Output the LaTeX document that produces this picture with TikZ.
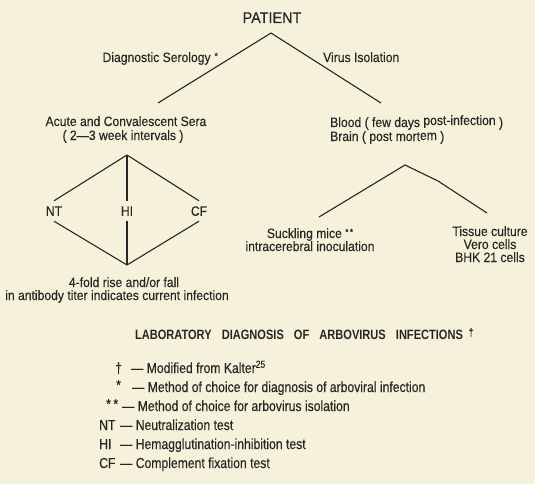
\documentclass[tikz,border=0pt]{standalone}
\usepackage{fontspec}
\setmainfont{Liberation Sans}[FakeStretch=0.9, FakeBold=0.25]
\newfontfamily\legfont{Liberation Sans}[FakeStretch=0.84, FakeBold=0.25]
\newfontfamily\patfont{Liberation Sans}[FakeStretch=0.93, FakeBold=0.25]
\newfontfamily\titfont{Liberation Sans Bold}[FakeStretch=0.82]
\definecolor{paper}{RGB}{246,241,218}
\definecolor{ink}{RGB}{40,38,36}
\begin{document}
\begin{tikzpicture}[x=1pt,y=-1pt,
  every node/.style={inner sep=0pt, text=ink, font=\fontsize{13.5}{15}\selectfont},
  link/.style={draw=ink, line width=1.1pt},
  txt/.style={anchor=base},
  txtw/.style={anchor=base west},
  dlab/.style={minimum height=20pt, text height=9.5pt, text depth=0pt},
  leg/.style={anchor=base west, font=\legfont\fontsize{14.5}{16}\selectfont}]
\fill[paper] (0,0) rectangle (535,484);
\useasboundingbox (0,0) rectangle (535,484);

% top tree
\node[txt, font=\patfont\fontsize{15.5}{18}\selectfont] (patient) at (272,23) {PATIENT};
\coordinate (apex) at (271,33);
\coordinate (lend) at (158,103);
\coordinate (rend) at (381,103);
\draw[link] (lend) -- (apex) -- (rend);
\node[anchor=base east] (diag) at (218,62) {Diagnostic Serology\hspace{4pt}\raisebox{3pt}{\fontsize{9}{9}\selectfont *}};
\node[txtw] (virus) at (323,62) {Virus Isolation};

\node[txt] (acute) at (126,126) {Acute and Convalescent Sera};
\node[txt] (interv) at (123,140) {( 2—3 week intervals )};
\node[txtw] (blood) at (330,127) {Blood ( few days \raisebox{2pt}{post-infection} )};
\node[txtw] (brain) at (330,141) {Brain ( post mort\raisebox{1pt}{em} )};

% diamond
\coordinate (dtop) at (127,155);
\coordinate (dbot) at (127,265);
\node[dlab] (NT) at (54,211) {NT};
\node[dlab] (HI) at (127,211) {HI};
\node[dlab] (CF) at (199,211) {CF};
\draw[link] (NT.north) -- (dtop) -- (CF.north);
\draw[link] (NT.south) -- (dbot) -- (CF.south);
\draw[link] (dtop) -- (HI.north);
\draw[link] (HI.south) -- (dbot);
\node[txt] (fold) at (124,287) {4-fold rise and/or fall};
\node[txt] (titer) at (117,300) {in antibody titer indicates current infection};

% virus isolation subtree
\coordinate (rtop) at (405,165);
\coordinate (rl) at (319,217);
\coordinate (rk) at (438,181);
\coordinate (rr) at (487,213);
\draw[link] (rl) -- (rtop) -- (rk) -- (rr);
\node[txt] (suck) at (310,238) {Suckling mice \raisebox{3pt}{\fontsize{9}{9}\selectfont *\,*}};
\node[txt] (intra) at (310,251) {intracerebral inoculation};
\node[txt] (tissue) at (490,236) {Tissue culture};
\node[txt] (vero) at (490,249) {Vero cells};
\node[txt] (bhk) at (490,262) {BHK 21 cells};

% title
\node[txt, font=\titfont\fontsize{13.5}{15}\selectfont] (title) at (299,339)
  {LABORATORY\hspace{7pt} DIAGNOSIS\hspace{7pt} OF\hspace{7pt} ARBOVIRUS\hspace{7pt} INFECTIONS};
\node[anchor=base west, font=\fontsize{11}{11}\selectfont] (tdag) at (title.base east) {\hspace{5pt}\raisebox{3pt}{†}};

% legend
\node[leg] (s1) at (115,373) {†};
\node[leg] (l1) at (131,373) {— Modified from Kalter\textsuperscript{25}};
\node[leg] (s2) at (116,392) {\raisebox{2pt}{*}};
\node[leg] (l2) at (132,392) {— Method of choice for diagnosis of arboviral infection};
\node[leg] (s3) at (106,411) {\raisebox{2pt}{*\,*}};
\node[leg] (l3) at (122,411) {— Method of choice for arbovirus isolation};
\node[leg] (s4) at (99,430) {NT};
\node[leg] (l4) at (120,430) {— Neutralization test};
\node[leg] (s5) at (99,449) {HI};
\node[leg] (l5) at (120,449) {— Hemagglutination-inhibition test};
\node[leg] (s6) at (99,468) {CF};
\node[leg] (l6) at (120,468) {— Complement fixation test};
\end{tikzpicture}
\end{document}
